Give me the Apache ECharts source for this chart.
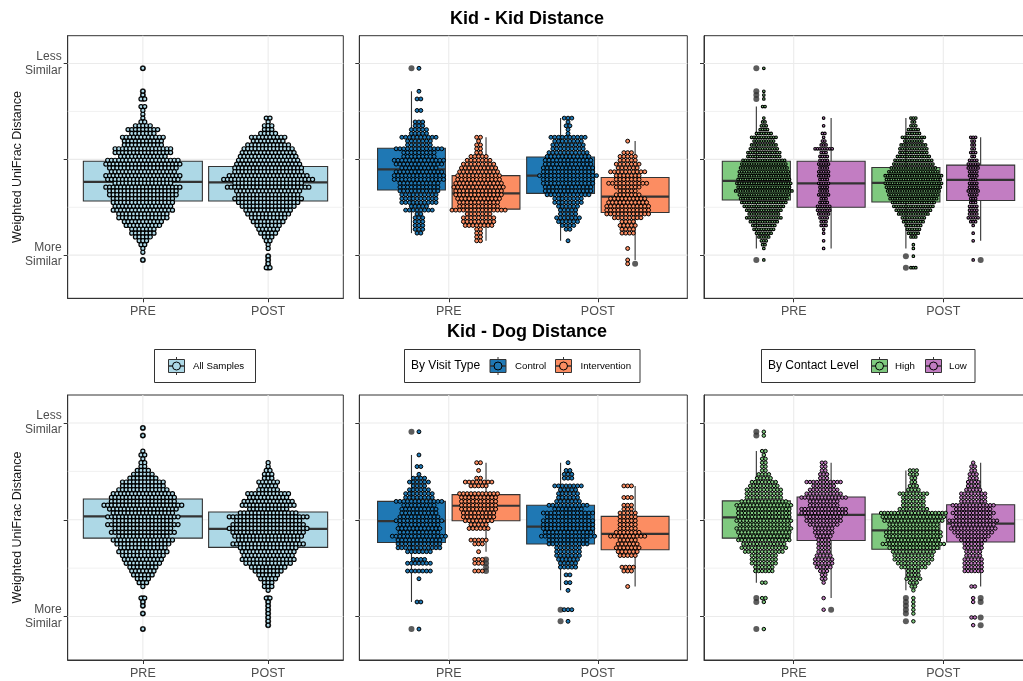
<!DOCTYPE html>
<html>
<head>
<meta charset="utf-8">
<script src="https://cdn.jsdelivr.net/npm/echarts@6/dist/echarts.min.js"></script>
<style>
html, body { margin: 0; padding: 0; background: #fff; width: 1023px; height: 681px; overflow: hidden; }
#chart { width: 1050px; height: 681px; }
</style>
</head>
<body>
<div id="chart"></div>
<script>
// ---------- scales ----------
const CATS = ['PRE', 'POST'];
const Y_TICKS = [0.2, 0.4, 0.6];
const Y_TICK_TEXT = ['More\nSimilar', '', 'Less\nSimilar'];
const Y_MINOR = [0.3, 0.5];
const Y_RANGE = [0.11, 0.658];
const X_RANGE = [0.4, 2.6];
const BIN = 0.008;          // dotplot bin width (distance units)

// ---------- Kid - Kid, all samples ----------
// dot counts per bin, highest bin first
const kkAllPre  = [1,0,0,0,0,0,1,1,2,0,2,1,1,1,2,5,9,7,12,11,11,16,16,13,20,21,19,18,21,20,16,21,19,19,17,17,16,17,14,14,11,10,7,7,5,3,2,1,1,0,1];
const kkAllPost = [2,1,3,3,5,10,9,12,14,15,16,17,18,19,19,22,25,19,23,18,17,19,17,15,13,12,10,9,7,6,5,3,2,1,1,0,1,1,1,2];
const kkAllTops = [0.590, 0.486];
// [lower whisker, Q1, median, Q3, upper whisker]
const kkAllBox = [[0.206, 0.313, 0.353, 0.396, 0.510], [0.214, 0.313, 0.352, 0.385, 0.486]];
const kkAllOut = [[0.590, 0.542, 0.534, 0.526, 0.190], [0.198, 0.190, 0.182, 0.174]];

// ---------- Kid - Kid, by visit type (Control PRE, Intervention PRE, Control POST, Intervention POST) ----------
const kkCtrlPre  = [1,0,0,0,0,0,1,0,2,0,0,2,0,0,3,3,5,5,10,7,7,13,9,9,14,13,10,13,14,14,11,11,11,10,10,10,5,8,2,3,3,3,3,2];
const kkIntPre   = [2,1,2,2,2,5,7,9,10,11,12,12,13,14,13,13,12,11,11,15,7,9,9,8,2,2,2,2];
const kkCtrlPost = [3,1,2,1,1,10,8,9,9,11,12,13,13,14,14,16,14,14,13,13,12,8,8,6,5,5,7,6,4,2,0,0,1];
const kkIntPost  = [1,0,0,3,5,5,7,6,10,7,7,11,7,5,7,10,11,12,12,12,8,4,5,4,4,0,0,0,1,0,0,1,1];
const kkVisitTops = [0.590, 0.446, 0.486, 0.438];
const kkVisitBox = [[0.246, 0.336, 0.379, 0.423, 0.542], [0.230, 0.296, 0.329, 0.366, 0.446],
                    [0.230, 0.329, 0.366, 0.405, 0.486], [0.190, 0.289, 0.322, 0.362, 0.438]];
const kkVisitOut = [[0.590], [], [], [0.182]];

// ---------- Kid - Kid, by contact level (High PRE, Low PRE, High POST, Low POST) ----------
const kkHighPre  = [1,0,0,0,0,0,1,1,1,0,2,0,0,1,2,3,4,7,11,9,11,12,14,14,18,19,20,21,21,22,23,22,24,21,20,19,17,15,13,15,12,10,9,7,5,3,2,1,0,0,1];
const kkLowPre   = [1,0,1,0,2,1,2,3,8,3,4,4,5,4,5,5,4,5,4,4,5,3,4,6,6,5,4,3,3,1,1,0,1,0,1];
const kkHighPost = [3,2,3,5,6,10,8,11,12,12,14,16,17,19,21,24,23,24,23,22,21,20,18,17,15,13,10,9,7,6,5,3,0,1,1,0,1,0,0,3];
const kkLowPost  = [3,2,2,2,3,2,4,5,5,4,4,3,4,4,5,4,3,3,4,4,4,5,3,1,0,1,0,1,0,0,0,0,1];
const kkContactTops = [0.590, 0.486, 0.486, 0.446];
const kkContactBox = [[0.214, 0.315, 0.355, 0.396, 0.510], [0.214, 0.300, 0.350, 0.396, 0.486],
                      [0.214, 0.311, 0.351, 0.383, 0.486], [0.230, 0.314, 0.357, 0.388, 0.446]];
const kkContactOut = [[0.590, 0.542, 0.534, 0.526, 0.190], [], [0.198, 0.174], [0.190]];

// ---------- Kid - Dog, all samples ----------
const kdAllPre  = [1,0,1,0,0,0,1,2,1,2,2,4,6,8,12,12,14,17,18,18,22,19,17,20,16,20,16,18,14,17,15,13,14,12,11,10,8,7,6,4,3,1,0,0,2,1,1,0,1,0,0,0,1];
const kdAllPost = [1,1,2,3,3,6,5,6,12,11,14,15,11,16,22,18,20,22,20,19,17,20,16,15,14,15,13,10,8,6,5,3,3,1,0,2,1,1,1,1,1,1,1];
const kdAllTops = [0.590, 0.518];
const kdAllBox = [[0.262, 0.362, 0.407, 0.443, 0.542], [0.254, 0.343, 0.381, 0.416, 0.518]];
const kdAllOut = [[0.590, 0.574, 0.238, 0.230, 0.222, 0.206, 0.174], [0.238, 0.230, 0.222, 0.214, 0.206, 0.198, 0.190, 0.182]];

// ---------- Kid - Dog, by visit type ----------
const kdCtrlPre  = [1,0,0,0,0,0,1,0,0,2,0,1,4,6,4,6,8,8,13,9,10,10,11,13,11,12,11,15,12,12,12,7,0,4,7,0,7,0,1,0,0,0,0,0,2,0,0,0,0,0,0,1];
const kdIntPre   = [2,0,1,0,2,8,5,0,11,10,10,10,10,9,9,8,5,6,0,0,5,3,0,1,0,3,3,0,3];
const kdCtrlPost = [1,0,2,3,3,0,8,5,6,6,7,11,8,14,12,14,14,14,13,15,11,11,7,7,7,6,5,5,0,2,0,2,0,1,0,0,0,0,3,0,0,1];
const kdIntPost  = [3,0,0,3,0,3,3,5,5,5,5,5,7,10,5,6,7,6,5,0,0,4,3,0,0,0,1];
const kdVisitTops = [0.582, 0.518, 0.518, 0.470];
const kdVisitBox = [[0.230, 0.353, 0.397, 0.438, 0.534], [0.334, 0.398, 0.429, 0.452, 0.518],
                    [0.254, 0.350, 0.386, 0.430, 0.518], [0.262, 0.338, 0.371, 0.407, 0.470]];
const kdVisitOut = [[0.582, 0.174], [0.318, 0.310, 0.302, 0.294], [0.214, 0.190], []];

// ---------- Kid - Dog, by contact level ----------
const kdHighPre  = [1,1,0,0,0,2,1,2,2,2,2,4,5,8,9,11,11,11,14,17,16,16,16,17,15,17,16,15,16,13,14,12,8,8,8,6,6,0,0,2,0,0,0,2,1,0,0,0,0,0,0,1];
const kdLowPre   = [2,2,2,3,3,11,7,9,11,14,9,9,14,14,11,11,9,6,6,5,4,4,4,4,5,6,6,5,3,2,2,1,0,0,0,1,0,0,1];
const kdHighPost = [3,3,2,2,3,4,9,7,7,7,9,20,19,18,15,15,17,17,16,19,15,13,12,12,10,8,4,4,5,3,2,1,0,1,1,1,1,1,0,1];
const kdLowPost  = [1,2,2,3,3,4,4,5,8,8,8,13,11,13,11,15,13,14,12,10,8,6,6,5,5,6,6,6,6,0,0,0,2,0,0,1,1,0,0,0,2,0,1];
const kdContactTops = [0.582, 0.518, 0.502, 0.518];
const kdContactBox = [[0.270, 0.362, 0.405, 0.439, 0.542], [0.238, 0.357, 0.410, 0.447, 0.518],
                      [0.254, 0.339, 0.378, 0.412, 0.502], [0.262, 0.354, 0.392, 0.431, 0.518]];
const kdContactOut = [[0.582, 0.574, 0.238, 0.230, 0.174], [0.214], [0.238, 0.230, 0.222, 0.214, 0.206, 0.190], [0.238, 0.230, 0.198, 0.182]];

// ---------- groupings ----------
const GROUP_ALL = ['All Samples'];
const GROUP_VISIT = ['Control', 'Intervention'];
const GROUP_CONTACT = ['High', 'Low'];
const TITLES = ['Kid - Kid Distance', 'Kid - Dog Distance'];
const Y_NAME = 'Weighted UniFrac Distance';

// ---------- styling / layout ----------
const FONT = "'Liberation Sans', Arial, Helvetica, sans-serif";
const COLORS = {
  'All Samples': '#ADD8E6', 'Control': '#1F78B4', 'Intervention': '#FC8D62',
  'High': '#7FC97F', 'Low': '#C27DC2'
};
const DODGE = {
  1: { box: [0], dot: [0], boxWidth: 0.95 },
  2: { box: [-0.25, 0.25], dot: [-0.2, 0.2], boxWidth: 0.455 }
};
const COLS = [{ left: 67.7, width: 275.6 }, { left: 359.3, width: 328 }, { left: 704, width: 329 }];
const ROWS = [{ top: 35.7, height: 262.6 }, { top: 395, height: 265 }];

const PANELS = [
  { row: 0, col: 0, groups: GROUP_ALL, swarms: [kkAllPre, kkAllPost], tops: kkAllTops, boxes: kkAllBox, outliers: kkAllOut, pitch: 3.7, r: 2.05, stroke: 1.2 },
  { row: 0, col: 1, groups: GROUP_VISIT, swarms: [kkCtrlPre, kkIntPre, kkCtrlPost, kkIntPost], tops: kkVisitTops, boxes: kkVisitBox, outliers: kkVisitOut, pitch: 3.8, r: 1.95, stroke: 1.0 },
  { row: 0, col: 2, groups: GROUP_CONTACT, swarms: [kkHighPre, kkLowPre, kkHighPost, kkLowPost], tops: kkContactTops, boxes: kkContactBox, outliers: kkContactOut, pitch: 2.45, r: 1.3, stroke: 1.1 },
  { row: 1, col: 0, groups: GROUP_ALL, swarms: [kdAllPre, kdAllPost], tops: kdAllTops, boxes: kdAllBox, outliers: kdAllOut, pitch: 3.7, r: 2.05, stroke: 1.2 },
  { row: 1, col: 1, groups: GROUP_VISIT, swarms: [kdCtrlPre, kdIntPre, kdCtrlPost, kdIntPost], tops: kdVisitTops, boxes: kdVisitBox, outliers: kdVisitOut, pitch: 3.8, r: 1.95, stroke: 1.0 },
  { row: 1, col: 2, groups: GROUP_CONTACT, swarms: [kdHighPre, kdLowPre, kdHighPost, kdLowPost], tops: kdContactTops, boxes: kdContactBox, outliers: kdContactOut, pitch: 3.4, r: 1.75, stroke: 1.0 }
];

const INK = '#333333';
const grids = [], xAxes = [], yAxes = [], series = [];

function gridLineItem(params, api) {
  const kind = api.value(0), v = api.value(1);
  let a, b;
  if (kind === 2) { a = api.coord([v, Y_RANGE[0]]); b = api.coord([v, Y_RANGE[1]]); }
  else { a = api.coord([X_RANGE[0], v]); b = api.coord([X_RANGE[1], v]); }
  return {
    type: 'line',
    shape: { x1: a[0], y1: a[1], x2: b[0], y2: b[1] },
    style: { stroke: '#EBEBEB', lineWidth: kind === 1 ? 0.7 : 1.1 }
  };
}

PANELS.forEach((p, i) => {
  const G = p.groups.length;
  const lay = DODGE[G];
  const colors = p.groups.map(g => COLORS[g]);
  grids.push({
    left: COLS[p.col].left, width: COLS[p.col].width,
    top: ROWS[p.row].top, height: ROWS[p.row].height,
    show: true, borderColor: INK, borderWidth: 1, backgroundColor: '#fff'
  });
  xAxes.push({
    gridIndex: i, type: 'value', min: X_RANGE[0], max: X_RANGE[1],
    axisLine: { show: true, lineStyle: { color: INK, width: 1 } },
    splitLine: { show: false },
    axisTick: { show: true, customValues: [1, 2], length: 4, lineStyle: { color: INK } },
    axisLabel: {
      customValues: [1, 2], formatter: v => CATS[Math.round(v) - 1] || '',
      color: '#4D4D4D', fontSize: 12.5, fontFamily: FONT, margin: 7
    }
  });
  const firstCol = p.col === 0;
  yAxes.push({
    gridIndex: i, type: 'value', min: Y_RANGE[0], max: Y_RANGE[1],
    axisLine: { show: true, lineStyle: { color: INK, width: 1 } },
    splitLine: { show: false },
    axisTick: { show: true, customValues: Y_TICKS, length: 4, lineStyle: { color: INK } },
    axisLabel: {
      show: firstCol, customValues: Y_TICKS,
      formatter: v => {
        let best = 0;
        Y_TICKS.forEach((t, k) => { if (Math.abs(t - v) < Math.abs(Y_TICKS[best] - v)) best = k; });
        return Y_TICK_TEXT[best];
      },
      color: '#4D4D4D', fontSize: 12, lineHeight: 14, fontFamily: FONT, margin: 6, align: 'right'
    },
    name: firstCol ? Y_NAME : '', nameLocation: 'middle', nameGap: 44, nameMoveOverlap: false,
    nameTextStyle: { color: '#1A1A1A', fontSize: 12.5, fontFamily: FONT }
  });

  // background grid lines
  const gl = [];
  Y_TICKS.forEach(v => gl.push([0, v]));
  Y_MINOR.forEach(v => gl.push([1, v]));
  [1, 2].forEach(x => gl.push([2, x]));
  series.push({
    type: 'custom', xAxisIndex: i, yAxisIndex: i, silent: true, z: 1,
    data: gl, renderItem: gridLineItem
  });

  const boxData = [], outData = [], dotData = [];
  CATS.forEach((c, ci) => {
    for (let g = 0; g < G; g++) {
      const k = ci * G + g;
      const b = p.boxes[k];
      const bx = ci + 1 + lay.box[g];
      boxData.push([bx, b[0], b[1], b[2], b[3], b[4], g]);
      p.outliers[k].forEach(v => outData.push([bx, v]));
      const dx = ci + 1 + lay.dot[g];
      p.swarms[k].forEach((n, r) => {
        if (n > 0) dotData.push([dx, +(p.tops[k] - r * BIN).toFixed(3), n, g]);
      });
    }
  });

  const half = lay.boxWidth / 2;
  series.push({
    type: 'custom', xAxisIndex: i, yAxisIndex: i, silent: true, z: 2,
    data: boxData,
    renderItem: (params, api) => {
      const x = api.value(0);
      const lw = api.coord([x, api.value(1)]);
      const q1 = api.coord([x, api.value(2)]);
      const md = api.coord([x, api.value(3)]);
      const q3 = api.coord([x, api.value(4)]);
      const hw = api.coord([x, api.value(5)]);
      const l = api.coord([x - half, api.value(3)])[0];
      const r = api.coord([x + half, api.value(3)])[0];
      const fill = colors[api.value(6)];
      return {
        type: 'group', children: [
          { type: 'line', shape: { x1: hw[0], y1: hw[1], x2: q3[0], y2: q3[1] }, style: { stroke: INK, lineWidth: 1.1 } },
          { type: 'line', shape: { x1: q1[0], y1: q1[1], x2: lw[0], y2: lw[1] }, style: { stroke: INK, lineWidth: 1.1 } },
          { type: 'rect', shape: { x: l, y: q3[1], width: r - l, height: q1[1] - q3[1] }, style: { fill: fill, stroke: INK, lineWidth: 1.1 } },
          { type: 'line', shape: { x1: l, y1: md[1], x2: r, y2: md[1] }, style: { stroke: INK, lineWidth: 2.2 } }
        ]
      };
    }
  });

  series.push({
    type: 'scatter', xAxisIndex: i, yAxisIndex: i, silent: true, z: 3,
    symbol: 'circle', symbolSize: 6, itemStyle: { color: INK },
    data: outData
  });

  const pitch = p.pitch, stroke = p.stroke, rad = p.r;
  series.push({
    type: 'custom', xAxisIndex: i, yAxisIndex: i, silent: true, z: 4,
    data: dotData,
    renderItem: (params, api) => {
      const c = api.coord([api.value(0), api.value(1)]);
      const n = api.value(2);
      const fill = colors[api.value(3)];
      const kids = [];
      for (let k = 0; k < n; k++) {
        kids.push({
          type: 'circle',
          shape: { cx: c[0] + (k - (n - 1) / 2) * pitch, cy: c[1], r: rad },
          style: { fill: fill, stroke: '#000', lineWidth: stroke }
        });
      }
      return { type: 'group', children: kids };
    }
  });
});

// ---------- legends ----------
const LEGENDS = [
  { x: 154.5, w: 101, title: '', groups: GROUP_ALL, keys: [176.5], labels: [193] },
  { x: 404.5, w: 235.5, title: 'By Visit Type', groups: GROUP_VISIT, keys: [498, 563.5], labels: [515, 580.5] },
  { x: 761.5, w: 213.5, title: 'By Contact Level', groups: GROUP_CONTACT, keys: [879.5, 933.5], labels: [895, 949] }
];
const LEG_Y = 349.5, LEG_H = 33, LEG_MID = 366;
const graphics = [];
LEGENDS.forEach(L => {
  graphics.push({ type: 'rect', shape: { x: L.x, y: LEG_Y, width: L.w, height: LEG_H }, style: { fill: '#fff', stroke: INK, lineWidth: 1 } });
  if (L.title) {
    graphics.push({ type: 'text', x: L.x + 6.5, y: LEG_MID, style: { text: L.title, fill: '#000', fontSize: 12, fontFamily: FONT, verticalAlign: 'middle', align: 'left' } });
  }
  L.groups.forEach((g, k) => {
    const cx = L.keys[k], col = COLORS[g];
    graphics.push({ type: 'line', shape: { x1: cx, y1: LEG_MID - 9, x2: cx, y2: LEG_MID + 9 }, style: { stroke: INK, lineWidth: 1 } });
    graphics.push({ type: 'rect', shape: { x: cx - 8, y: LEG_MID - 6.5, width: 16, height: 13 }, style: { fill: col, stroke: INK, lineWidth: 1 } });
    graphics.push({ type: 'line', shape: { x1: cx - 8, y1: LEG_MID, x2: cx + 8, y2: LEG_MID }, style: { stroke: INK, lineWidth: 1.5 } });
    graphics.push({ type: 'circle', shape: { cx: cx, cy: LEG_MID, r: 4 }, style: { fill: col, stroke: '#000', lineWidth: 1 } });
    graphics.push({ type: 'text', x: L.labels[k], y: LEG_MID, style: { text: g, fill: '#000', fontSize: 9.7, fontFamily: FONT, verticalAlign: 'middle', align: 'left' } });
  });
});

const chart = echarts.init(document.getElementById('chart'), null, { renderer: 'canvas' });
chart.setOption({
  animation: false,
  backgroundColor: '#fff',
  title: [
    { text: TITLES[0], left: 522, top: 5, textAlign: 'center', textStyle: { fontSize: 18, fontWeight: 'bold', color: '#000', fontFamily: FONT } },
    { text: TITLES[1], left: 522, top: 318, textAlign: 'center', textStyle: { fontSize: 18, fontWeight: 'bold', color: '#000', fontFamily: FONT } }
  ],
  grid: grids,
  xAxis: xAxes,
  yAxis: yAxes,
  series: series,
  graphic: graphics
});
</script>
</body>
</html>
